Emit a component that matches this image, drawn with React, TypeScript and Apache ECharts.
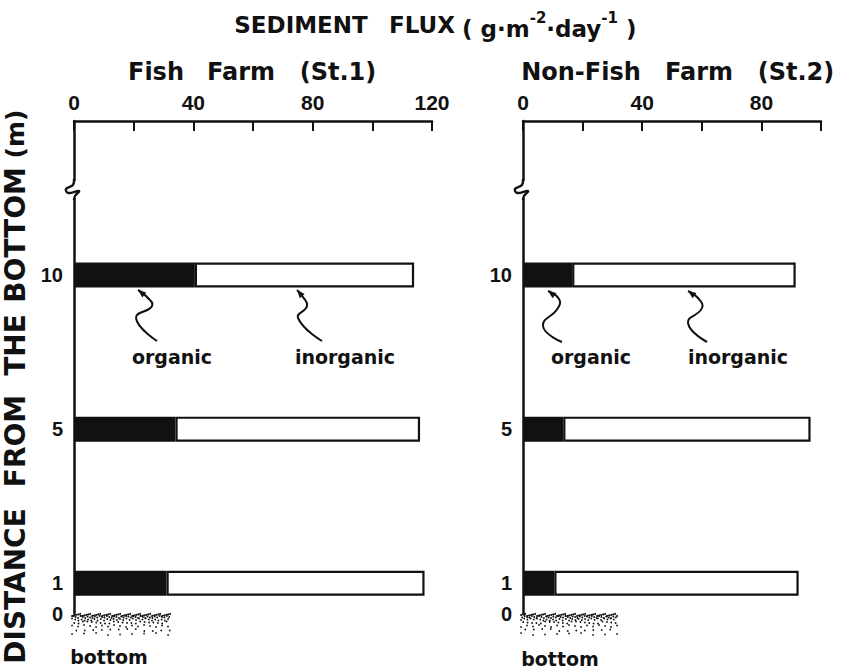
import React, { useEffect, useRef } from "react";
import * as echarts from "echarts";

// ---- data ----
const heights = ["10", "5", "1"]; // distance from the bottom (m)
const st1Organic = [40.5, 34, 31];
const st1Inorganic = [73.5, 82, 86.5];
const st2Organic = [16.5, 13.5, 10.5];
const st2Inorganic = [75, 83, 82];
const st1Ticks = [0, 40, 80, 120];
const st2Ticks = [0, 40, 80];

// the depth axis of the figure is schematic: rows of an evenly spaced scale
const yRowCount = 17;
const rowOfHeight: Record<string, number> = { "0": 0, "1": 1, "5": 6, "10": 11 };

const W = 848;
const H = 669;
const INK = "#111";
const WIDE = "DejaVu Sans";
const NARROW = "Liberation Sans";

const GRID_TOP = 121;
const GRID_H = 493;
const G1 = { left: 74, width: 358 };
const G2 = { left: 523, width: 298 };

function txt(x: number, y: number, text: string, size: number, extra: any = {}) {
  return {
    type: "text",
    x,
    y,
    silent: true,
    ...extra,
    style: {
      text,
      fill: INK,
      fontFamily: WIDE,
      fontWeight: "bold",
      fontSize: size,
      align: "center",
      verticalAlign: "middle",
      textAlign: "center",
      textVerticalAlign: "middle",
      ...(extra.style || {}),
    },
  };
}

function squiggle(points: number[][]) {
  const n = points.length;
  const [tx, ty] = points[n - 1];
  const [px, py] = points[n - 2];
  const ang = Math.atan2(ty - py, tx - px);
  const len = 8;
  const half = 3.2;
  const bx = tx - len * Math.cos(ang);
  const by = ty - len * Math.sin(ang);
  const nx = -Math.sin(ang);
  const ny = Math.cos(ang);
  return [
    {
      type: "polyline",
      silent: true,
      shape: { points, smooth: 0.5 },
      style: { stroke: INK, lineWidth: 2, fill: "none" },
    },
    {
      type: "polygon",
      silent: true,
      shape: {
        points: [
          [tx, ty],
          [bx + nx * half, by + ny * half],
          [bx - nx * half, by - ny * half],
        ],
      },
      style: { fill: INK },
    },
  ];
}

function axisBreak(x: number) {
  return [
    { type: "rect", silent: true, shape: { x: x - 4, y: 181, width: 8, height: 17 }, style: { fill: "#fff" }, z: 100 },
    {
      type: "polyline",
      silent: true,
      z: 101,
      shape: {
        points: [
          [x, 179],
          [x - 1, 185],
          [x - 8, 189],
          [x - 6, 193],
          [x + 5, 191],
          [x + 1, 196],
          [x, 200],
        ],
        smooth: 0.4,
      },
      style: { stroke: INK, lineWidth: 2.4, fill: "none" },
    },
  ];
}

function stipple(x0: number, x1: number, y0: number) {
  const dots: any[] = [];
  const rows = [
    { dy: 1, step: 2, r: 1 },
    { dy: 3, step: 2.4, r: 0.95 },
    { dy: 5.5, step: 3.2, r: 0.9 },
    { dy: 8.5, step: 4.4, r: 0.9 },
    { dy: 12, step: 6, r: 0.85 },
    { dy: 16, step: 8.5, r: 0.85 },
    { dy: 20, step: 12, r: 0.8 },
  ];
  rows.forEach((row, ri) => {
    const off = (ri % 2) * row.step * 0.5;
    for (let x = x0 + off; x <= x1; x += row.step) {
      const jitter = ((Math.floor(x * 7 + ri * 13) % 5) - 2) * 0.5;
      dots.push({
        type: "circle",
        silent: true,
        shape: { cx: x, cy: y0 + row.dy + jitter, r: row.r },
        style: { fill: INK },
      });
    }
  });
  return dots;
}

function buildOption() {
  const rows = Array.from({ length: yRowCount }, (_, i) => String(i));
  const labelAtRow: Record<string, string> = {};
  Object.keys(rowOfHeight).forEach((k) => (labelAtRow[String(rowOfHeight[k])] = k));

  const xAxisBase = (gi: number, max: number, ticks: number[]) => ({
    type: "value",
    gridIndex: gi,
    position: "top",
    min: 0,
    max,
    interval: 20,
    splitLine: { show: false },
    axisLine: { show: true, onZero: false, lineStyle: { color: INK, width: 2.5 } },
    axisTick: { show: true, inside: true, length: 10, lineStyle: { color: INK, width: 2 } },
    axisLabel: {
      show: true,
      margin: 8,
      color: INK,
      fontFamily: NARROW,
      fontWeight: "bold",
      fontSize: 21,
      formatter: (v: number) => (ticks.indexOf(v) >= 0 ? String(v) : ""),
    },
  });

  const yAxisBase = (gi: number) => ({
    type: "category",
    gridIndex: gi,
    data: rows,
    boundaryGap: false,
    axisLine: { show: true, lineStyle: { color: INK, width: 2.5 } },
    axisTick: { show: false },
    splitLine: { show: false },
    axisLabel: {
      show: true,
      interval: 0,
      margin: 11,
      color: INK,
      fontFamily: NARROW,
      fontWeight: "bold",
      fontSize: 20,
      formatter: (v: string) => labelAtRow[v] ?? "",
    },
  });

  const pair = (vals: number[]) => vals.map((v, i) => [v, String(rowOfHeight[heights[i]])]);

  const barSeries = (gi: number, name: string, vals: number[], organic: boolean) => ({
    type: "bar",
    name,
    xAxisIndex: gi,
    yAxisIndex: gi,
    stack: "flux" + gi,
    barWidth: 25,
    data: pair(vals),
    itemStyle: organic
      ? { color: INK, borderColor: INK, borderWidth: 1.5 }
      : { color: "#fff", borderColor: INK, borderWidth: 2.2 },
    silent: true,
  });

  const rot = { rotation: Math.PI / 2 };

  const graphic: any[] = [
    // title
    txt(301, 25, "SEDIMENT", 23),
    txt(422, 25, "FLUX", 23),
    {
      type: "text",
      x: 462,
      y: 25,
      silent: true,
      style: {
        text: "{a|( g·m}{s|-2}{a|·day}{s|-1}{a| )}",
        fill: INK,
        align: "left",
        verticalAlign: "middle",
        textAlign: "left",
        textVerticalAlign: "middle",
        rich: {
          a: { fontFamily: WIDE, fontWeight: "bold", fontSize: 23, lineHeight: 30, fill: INK, verticalAlign: "bottom" },
          s: { fontFamily: WIDE, fontWeight: "bold", fontSize: 15, lineHeight: 30, fill: INK, verticalAlign: "top" },
        },
      },
    },
    // panel titles
    txt(156, 72, "Fish", 24),
    txt(241, 72, "Farm", 24),
    txt(338, 72, "(St.1)", 24),
    txt(581, 72, "Non-Fish", 24),
    txt(699, 72, "Farm", 24),
    txt(796, 72, "(St.2)", 24),
    // y axis name, word by word
    txt(15, 586, "DISTANCE", 28, rot),
    txt(15, 441, "FROM", 28, rot),
    txt(15, 345, "THE", 28, rot),
    txt(15, 235, "BOTTOM", 28, rot),
    txt(15, 134, "(m)", 25, rot),
    // annotations
    txt(172, 357, "organic", 19),
    txt(345, 357, "inorganic", 19),
    txt(591, 357, "organic", 19),
    txt(738, 357, "inorganic", 19),
    ...squiggle([[157, 341], [136, 318], [152, 306], [147, 297], [138, 290]]),
    ...squiggle([[322, 341], [298, 318], [307, 306], [303, 297], [297, 290]]),
    ...squiggle([[562, 342], [543, 326], [558, 308], [559, 299], [548, 291]]),
    ...squiggle([[707, 342], [688, 323], [702, 308], [698, 298], [688, 291]]),
    // axis breaks
    ...axisBreak(G1.left),
    ...axisBreak(G2.left),
    // sea bottom
    ...stipple(72, 170, 614),
    ...stipple(521, 617, 614),
    txt(109, 657, "bottom", 19),
    txt(560, 659, "bottom", 19),
  ];

  return {
    animation: false,
    backgroundColor: "#fff",
    grid: [
      { left: G1.left, top: GRID_TOP, width: G1.width, height: GRID_H, containLabel: false },
      { left: G2.left, top: GRID_TOP, width: G2.width, height: GRID_H, containLabel: false },
    ],
    xAxis: [xAxisBase(0, 120, st1Ticks), xAxisBase(1, 100, st2Ticks)],
    yAxis: [yAxisBase(0), yAxisBase(1)],
    series: [
      barSeries(0, "organic", st1Organic, true),
      barSeries(0, "inorganic", st1Inorganic, false),
      barSeries(1, "organic", st2Organic, true),
      barSeries(1, "inorganic", st2Inorganic, false),
    ],
    graphic,
  };
}

export default function App() {
  const ref = useRef<HTMLDivElement>(null);
  useEffect(() => {
    document.body.style.margin = "0";
    if (!ref.current) return;
    const chart = echarts.init(ref.current, undefined, { renderer: "svg", width: W, height: H });
    chart.setOption(buildOption() as any);
    return () => chart.dispose();
  }, []);
  return <div ref={ref} style={{ position: "absolute", left: 0, top: 0, width: W, height: H, background: "#fff" }} />;
}
